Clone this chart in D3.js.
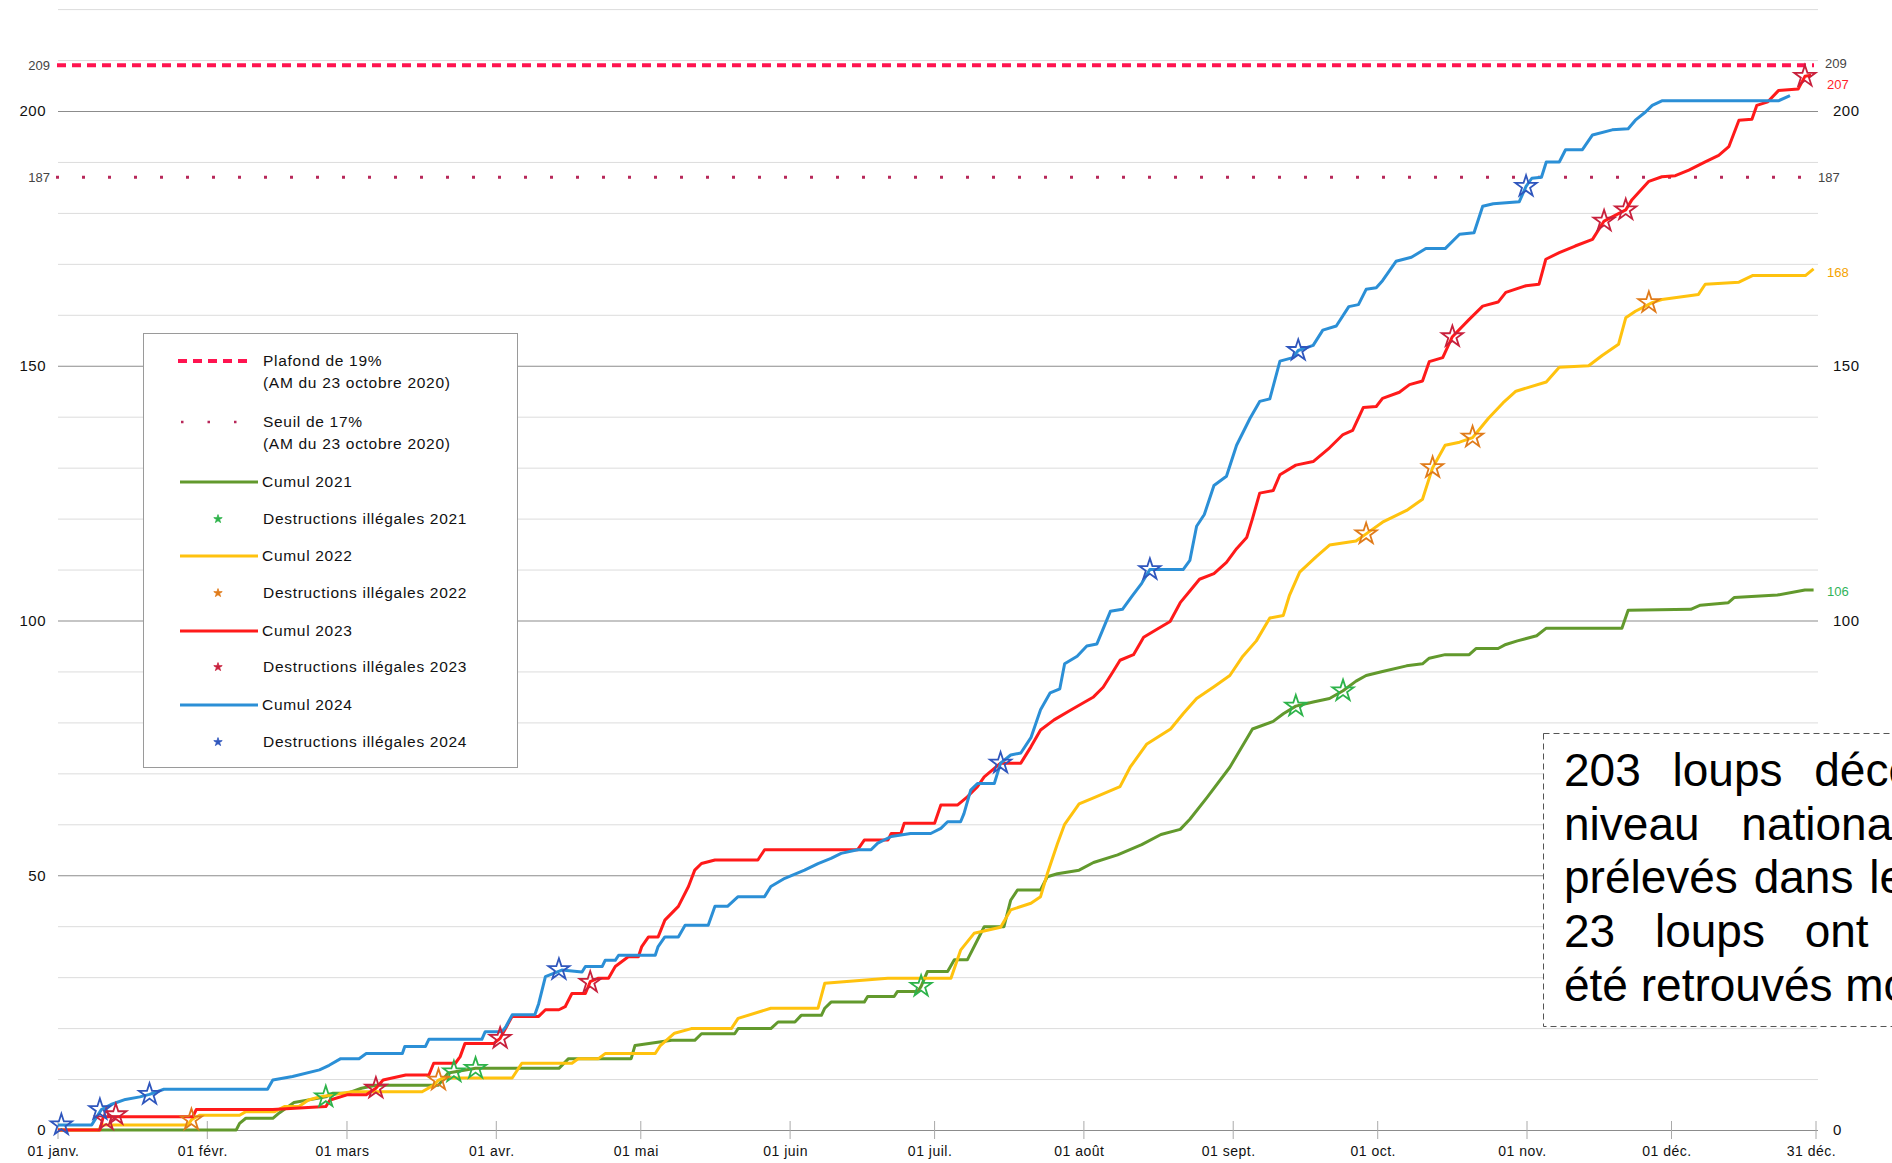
<!DOCTYPE html>
<html>
<head>
<meta charset="utf-8">
<title>Cumul des loups décomptés</title>
<script src="https://d3js.org/d3.v7.min.js"></script>
<style>
  html, body { margin: 0; padding: 0; background: #fff; overflow: hidden; }
  text { font-family: "Liberation Sans", Arial, sans-serif; }
</style>
</head>
<body>
<script>
// ---- data : [jour de l'année, cumul] ----
const cumul2021 = [[0,0],[37,0],[37.7,1.3],[39,2.3],[44.6,2.3],[46,3.4],[49,5.4],[55.6,6.5],[57,7.2],[60,7.2],[63,8.2],[66,8.8],[79,8.8],[81,11.2],[82.2,11.4],[86.7,12.1],[104,12.1],[106,14],[119,14],[119.8,16.6],[127.4,17.6],[132.2,17.6],[133.6,18.9],[140.5,18.9],[141.2,19.9],[148,19.9],[149.5,21.2],[153,21.2],[154.3,22.5],[158.5,22.5],[159.2,23.9],[160.5,25.1],[167.4,25.1],[168.1,26.2],[173.6,26.2],[174.3,27.2],[178.5,27.2],[179.2,28.2],[180.5,31.1],[184.7,31.1],[186.1,33.4],[188.8,33.4],[192.3,39.9],[196.4,39.9],[197.8,45.1],[199.2,47.1],[204,47.1],[205.4,49.7],[207.5,50.3],[212,51],[215,52.5],[220,54],[225,56],[229,58],[233,59],[235,61],[238.5,65.2],[243.3,71.2],[248,78.7],[252.3,80.2],[254.4,81.7],[257,83.2],[260.6,84],[264,84.7],[266.8,86.2],[269.5,88.1],[271.6,89.2],[275,90],[280,91.1],[283.3,91.5],[284.7,92.6],[288,93.3],[293,93.3],[294.4,94.5],[299,94.5],[300.6,95.3],[303,96],[307,97],[309,98.5],[324.7,98.5],[326,102],[339,102.2],[341,103],[346.8,103.5],[348,104.5],[357,105],[362.7,106],[364.5,106]];
const cumul2022 = [[0,0],[8.5,0],[9,1],[27,1],[27.7,2],[29.4,2.9],[37.7,2.9],[39,3.6],[45,3.6],[47,4.6],[50,4.6],[52,5.9],[54.3,6.5],[61,7.5],[75.6,7.5],[78,8.8],[79,9.8],[80,10.2],[94.3,10.2],[96.3,13.1],[106.7,13.1],[108,14],[112.2,14],[113.6,15],[124,15],[125,16.5],[128,19],[131.5,19.9],[139.8,19.9],[141.2,21.9],[148,23.9],[157.8,23.9],[159.2,28.8],[172.3,29.8],[185.4,29.8],[187.4,35.3],[190.2,38.6],[195.7,39.8],[197.8,43.2],[202,44.5],[204,45.8],[205.4,50.3],[207.5,56.2],[209,60],[212,64],[215,65.2],[220.5,67.4],[222.6,71.2],[226,75.7],[231,78.7],[233.6,81.7],[236.4,84.7],[240,87],[243.3,89.2],[246,93],[248.8,96],[251.6,100.5],[254.4,101],[255.7,105],[257.8,109.5],[261.2,112.5],[264,114.8],[269.5,115.6],[271.6,117],[275,119.3],[280,121.6],[283.3,123.8],[285.4,130],[288,134.4],[291,135],[293.7,135.9],[295,137.4],[297,139.7],[300,142.7],[302.7,145],[309,146.8],[311.7,149.7],[317.8,150],[320.6,152],[324,154.2],[325.5,159.4],[327.5,160.7],[331,162.4],[333,163],[340.6,164],[342,166],[349,166.4],[351.8,167.7],[362.8,167.7],[364.5,169]];
const cumul2023 = [[0,0],[8.7,0],[9.4,2.6],[28,2.6],[28.7,4],[44.6,4],[55.6,4.6],[56.5,5.9],[60,6.9],[64,6.9],[66,8.2],[67.5,9.8],[72.2,10.8],[77,10.8],[78,13.1],[82.5,13.1],[83.5,14.4],[84.5,17],[90.5,17],[91.8,18],[94.3,22.3],[99.8,22.3],[101.2,23.6],[104,23.6],[105.3,24.2],[106.7,26.8],[109.5,26.8],[110.5,29.1],[112.2,29.8],[114.3,29.8],[115.7,32.1],[118.4,34],[120.5,34],[121.2,36],[122.6,37.9],[124.6,37.9],[126,41.2],[128.8,43.9],[130.9,47.8],[132.2,51],[133.6,52.3],[136.4,53],[145.3,53],[146.7,55],[166,55],[167.4,56.9],[172.3,56.9],[173,58.2],[175,58.2],[175.7,60.2],[182,60.2],[183.3,63.8],[186.8,63.8],[188.8,65.4],[190.9,67.4],[192.3,69.3],[195.7,72],[199.9,72],[202,75.2],[204,78.5],[206.8,80.5],[210.2,82.4],[213,83.9],[215,85],[217,86.9],[219,89.9],[220.5,92.2],[223.3,93.3],[225.4,96.7],[228,98.2],[230.9,99.8],[233,103.5],[235,105.8],[237,108.1],[240,109.2],[242.6,111.4],[244.7,114.1],[246.8,116.3],[248,120],[249.5,125],[252.3,125.5],[253.7,128.6],[257,130.5],[260.6,131.2],[264,133.9],[266.8,136.5],[268.8,137.3],[271,141.8],[273.7,142],[275,143.6],[278.5,144.8],[280.6,146.3],[283.3,147],[284.7,150.8],[287.5,151.6],[289.5,155.7],[293,159.1],[295.8,161.7],[299,162.5],[300.6,164.4],[304.8,165.7],[307.5,166],[308.9,170.9],[311.7,172.2],[315,173.5],[318.6,174.8],[321,178.4],[325.5,180.6],[326.8,182.6],[330.3,186.2],[333,187.1],[335.8,187.3],[338.6,188.4],[342,190],[344.8,191.3],[346.9,193],[349,198.2],[351.7,198.4],[352.7,201.1],[355,201.8],[357.2,204],[361.3,204.3],[362.7,206.8],[364,207]];
const cumul2024 = [[0,1],[7,1],[9,4],[11,5],[14,6],[17,6.5],[19,7],[22,8],[43.5,8],[44.6,9.8],[48.7,10.5],[54.3,11.8],[56.3,12.7],[58.7,14],[62.5,14],[64,15],[71.5,15],[72,16.4],[76.3,16.4],[77,17.8],[88,17.8],[88.7,19.3],[92.2,19.3],[93,20.3],[94.3,22.6],[99,22.6],[99.8,24.8],[101.2,30.1],[104.6,31.4],[108.8,31],[109.5,32.1],[113,32.1],[113.6,33.3],[115.7,33.3],[116.4,34.3],[124,34.3],[124.6,36],[126,37.9],[128.8,37.9],[130.2,40.2],[135,40.2],[136.4,43.9],[139,43.9],[141.2,45.8],[146.7,45.8],[148,47.8],[150.9,49.4],[155,51],[157.8,52.3],[160.5,53.3],[162.6,54.3],[166,55],[168.8,55],[170.2,56.3],[173,57.6],[177,58.2],[181.2,58.2],[183.3,59.2],[184.7,60.5],[187.4,60.5],[188.1,62.1],[189.5,66.7],[190.9,68],[194.4,68],[195.7,72],[197.8,73.6],[199.9,74],[202,77],[204,82.5],[206,85.8],[208,86.6],[209,91.5],[211.6,93],[213.6,95],[215.7,95.4],[218.5,101.8],[221,102.2],[223,104.8],[225,107.3],[226.7,110],[233.6,110],[235,111.8],[236.4,118.5],[238,120.8],[240,126.5],[242.6,128.3],[244.7,134.4],[247.5,139.7],[249.5,143],[251.6,143.5],[253.7,150.9],[256.4,151.6],[257.5,153],[260.6,154],[262.6,157],[265.4,157.8],[268,161.6],[270,162],[271.6,165],[273.7,165.3],[275,166.7],[277.8,170.5],[281,171.3],[284,173],[288,173],[291,175.8],[294,176.1],[295.8,181.3],[298,181.8],[303.4,182.2],[304.8,185.2],[306,186.8],[308,187],[309,190],[311.7,190],[313,192.4],[316.5,192.4],[318.6,195.3],[322.7,196.3],[326,196.5],[327.5,198.2],[329.6,199.8],[331,201.1],[333,202],[357.2,202],[359.6,203]];

// destructions illégales : [jour, cumul]
const destr2021 = [[55.6,6.5],[82.2,11.4],[86.7,12.1],[179.2,28.2],[257,83.2],[266.8,86.2]];
const destr2022 = [[27.7,2],[79,9.8],[271.6,117],[285.4,130],[293.7,136],[330.3,162.4]];
const destr2023 = [[10,2],[12,3],[66,8.2],[91.8,18],[110.5,29],[289.5,155.7],[321,178.4],[325.5,180.6],[362.7,206.8]];
const destr2024 = [[0.7,1],[8.7,4],[19,7],[104,31.5],[195.7,72],[226.7,110],[257.5,153],[304.8,185.2]];

const plafond = 209;
const seuil = 187;
const yMajor = [0, 50, 100, 150, 200];
const yMajorRight = [0, 100, 150, 200]; // 50 is hidden behind the note box
const yMinor = d3.range(0, 230, 10);
const monthTicks = ["2024-01-01","2024-02-01","2024-03-01","2024-04-01","2024-05-01","2024-06-01","2024-07-01","2024-08-01","2024-09-01","2024-10-01","2024-11-01","2024-12-01","2024-12-31"];
const monthLabels = ["01 janv.","01 févr.","01 mars","01 avr.","01 mai","01 juin","01 juil.","01 août","01 sept.","01 oct.","01 nov.","01 déc.","31 déc."];
const endLabels = [["207", 206, "#ff1f2a"], ["168", 169, "#f5a300"], ["106", 106.5, "#2fb35a"]];
const noteLines = ["203 loups décomptés au", "niveau national dont 180", "prélevés dans le cadre des tirs", "23 loups ont par ailleurs", "été retrouvés morts."];
const noteSpacing = [19, 29, 3, 27, 0];

const width = 1892, height = 1163;
const colors = { c2021: "#62992d", c2022: "#ffc20e", c2023: "#ff1a1a", c2024: "#2b8fd6",
                 s2021: "#2db34a", s2022: "#e07b1a", s2023: "#c8203c", s2024: "#2f56bd",
                 limit: "#ff1450", seuil: "#b8285a" };

const svg = d3.select("body").append("svg")
    .attr("width", width)
    .attr("height", height);

const t0 = Date.UTC(2024, 0, 1);
const x = d3.scaleUtc()
    .domain([new Date(t0), new Date(Date.UTC(2024, 11, 31))])
    .range([58, 1816]);
const xd = d => x(new Date(t0 + d * 864e5));
const y = d3.scaleLinear().domain([0, 200]).range([1130, 111]);

// grid
svg.append("g").selectAll("line")
    .data(yMinor.filter(v => !yMajor.includes(v)))
    .enter().append("line")
    .attr("x1", 58).attr("x2", 1818)
    .attr("y1", d => y(d) + 0.5).attr("y2", d => y(d) + 0.5)
    .style("stroke", "#dcdcdc").style("stroke-width", 1);
svg.append("g").selectAll("line")
    .data(yMajor)
    .enter().append("line")
    .attr("x1", 58).attr("x2", 1818)
    .attr("y1", d => y(d) + 0.5).attr("y2", d => y(d) + 0.5)
    .style("stroke", "#8c8c8c").style("stroke-width", 1.2);

// month tick marks
const tickDates = monthTicks.map(s => new Date(s + "T00:00:00Z"));
svg.append("g").selectAll("line")
    .data(tickDates)
    .enter().append("line")
    .attr("x1", d => x(d)).attr("x2", d => x(d))
    .attr("y1", 1121).attr("y2", 1139)
    .style("stroke", "#aaa").style("stroke-width", 1);

// axes
const axL = svg.append("g").attr("transform", "translate(46,0)")
    .call(d3.axisLeft(y).tickValues(yMajor).tickSize(0).tickPadding(0));
const axR = svg.append("g").attr("transform", "translate(1833,0)")
    .call(d3.axisRight(y).tickValues(yMajorRight).tickSize(0).tickPadding(0));
const axB = svg.append("g").attr("transform", "translate(-5,1142)")
    .call(d3.axisBottom(x).tickValues(tickDates).tickSize(0).tickPadding(4)
        .tickFormat((d, i) => monthLabels[i]));
[axL, axR, axB].forEach(a => {
    a.select(".domain").remove();
    a.selectAll("text").style("font-family", "Liberation Sans, Arial, sans-serif")
        .style("font-size", "15px").style("fill", "#111").style("letter-spacing", "0.5px");
});
axB.selectAll("text").style("font-size", "14px");

// limit lines
svg.append("line").attr("x1", 57).attr("x2", 1814)
    .attr("y1", y(plafond)).attr("y2", y(plafond))
    .style("stroke", colors.limit).style("stroke-width", 4).style("stroke-dasharray", "9,6");
svg.append("line").attr("x1", 56).attr("x2", 1816)
    .attr("y1", y(seuil)).attr("y2", y(seuil))
    .style("stroke", colors.seuil).style("stroke-width", 3).style("stroke-dasharray", "3,23");
[[plafond, 50, 1825, -2], [seuil, 50, 1818, 0]].forEach(([v, xl, xr, off]) => {
    svg.append("text").attr("x", xl).attr("y", y(v)).attr("dy", "0.35em")
        .attr("text-anchor", "end").style("font-size", "13px").style("fill", "#444").text(v);
    svg.append("text").attr("x", xr).attr("y", y(v) + off).attr("dy", "0.35em")
        .style("font-size", "13px").style("fill", "#444").text(v);
});

// series
const line = d3.line().x(d => xd(d[0])).y(d => y(d[1]));
const series = [
    [cumul2021, colors.c2021, destr2021, colors.s2021],
    [cumul2022, colors.c2022, destr2022, colors.s2022],
    [cumul2023, colors.c2023, destr2023, colors.s2023],
    [cumul2024, colors.c2024, destr2024, colors.s2024]
];
series.forEach(([data, col]) => {
    svg.append("path").datum(data).attr("d", line)
        .style("fill", "none").style("stroke", col)
        .style("stroke-width", 3).style("stroke-linejoin", "round");
});
const star = d3.symbol().type(d3.symbolStar).size(140);
series.forEach(([, , pts, scol]) => {
    svg.append("g").selectAll("path")
        .data(pts)
        .enter().append("path")
        .attr("d", star)
        .attr("transform", d => `translate(${xd(d[0])},${y(d[1])})`)
        .style("fill", "none").style("stroke", scol).style("stroke-width", 1.8);
});

// end labels
endLabels.forEach(([t, v, c]) => {
    svg.append("text").attr("x", 1827).attr("y", y(v) + 4).attr("dy", "0.35em")
        .style("font-size", "13px").style("fill", c).text(t);
});

// legend
const lg = svg.append("g");
lg.append("rect").attr("x", 143.5).attr("y", 333.5).attr("width", 374).attr("height", 434)
    .style("fill", "#fff").style("stroke", "#9a9a9a").style("stroke-width", 1);
const legendItems = [
    { type: "dash", col: colors.limit, y: 361, text: ["Plafond de 19%", "(AM du 23 octobre 2020)"] },
    { type: "dot", col: colors.seuil, y: 422, text: ["Seuil de 17%", "(AM du 23 octobre 2020)"] },
    { type: "line", col: colors.c2021, y: 482, text: ["Cumul 2021"] },
    { type: "star", col: colors.s2021, y: 519, text: ["Destructions illégales 2021"] },
    { type: "line", col: colors.c2022, y: 556, text: ["Cumul 2022"] },
    { type: "star", col: colors.s2022, y: 593, text: ["Destructions illégales 2022"] },
    { type: "line", col: colors.c2023, y: 631, text: ["Cumul 2023"] },
    { type: "star", col: colors.s2023, y: 667, text: ["Destructions illégales 2023"] },
    { type: "line", col: colors.c2024, y: 705, text: ["Cumul 2024"] },
    { type: "star", col: colors.s2024, y: 742, text: ["Destructions illégales 2024"] }
];
legendItems.forEach(it => {
    if (it.type === "dash") {
        lg.append("line").attr("x1", 178).attr("x2", 250).attr("y1", it.y).attr("y2", it.y)
            .style("stroke", it.col).style("stroke-width", 4).style("stroke-dasharray", "9,6");
    } else if (it.type === "dot") {
        lg.append("line").attr("x1", 181).attr("x2", 240).attr("y1", it.y).attr("y2", it.y)
            .style("stroke", it.col).style("stroke-width", 2.5).style("stroke-dasharray", "2.5,24");
    } else if (it.type === "line") {
        lg.append("line").attr("x1", 180).attr("x2", 258).attr("y1", it.y).attr("y2", it.y)
            .style("stroke", it.col).style("stroke-width", 3);
    } else {
        lg.append("path").attr("d", d3.symbol().type(d3.symbolStar).size(22))
            .attr("transform", `translate(218,${it.y})`)
            .style("fill", it.col).style("stroke", it.col).style("stroke-width", 0.8);
    }
    const tx = it.type === "line" ? 262 : 263;
    it.text.forEach((s, i) => {
        lg.append("text").attr("x", tx).attr("y", it.y + i * 22).attr("dy", "0.35em")
            .style("font-size", "15.5px").style("letter-spacing", "0.7px").style("fill", "#111").text(s);
    });
});

// annotation box (partly outside the page)
const nb = svg.append("g");
nb.append("rect").attr("x", 1543.5).attr("y", 733.5).attr("width", 700).attr("height", 293)
    .style("fill", "#fff").style("stroke", "#555").style("stroke-width", 1)
    .style("stroke-dasharray", "6,4");
noteLines.forEach((s, i) => {
    nb.append("text").attr("x", 1564).attr("y", 786 + i * 53.7)
        .style("font-size", "46px").style("fill", "#000")
        .style("word-spacing", noteSpacing[i] + "px").text(s);
});
</script>
</body>
</html>
